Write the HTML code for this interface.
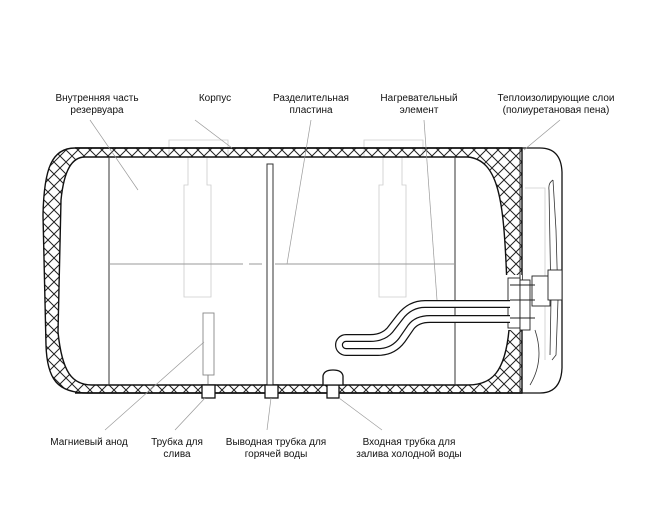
<!DOCTYPE html>
<html><head><meta charset="utf-8"><style>
html,body{margin:0;padding:0;background:#fff;width:648px;height:526px;overflow:hidden}
svg{display:block}
text{font-family:"Liberation Sans",sans-serif;font-size:10px;fill:#111}
</style></head><body>
<svg width="648" height="526" viewBox="0 0 648 526" xmlns="http://www.w3.org/2000/svg">
<defs>
<pattern id="h" width="12" height="12" patternUnits="userSpaceOnUse">
<path d="M0,0 L12,12 M12,0 L0,12" stroke="#222" stroke-width="1"/>
</pattern>
</defs>
<g fill="none" stroke="#ccc" stroke-width="0.8">
<path d="M169,157 V140 H228 V157"/>
<path d="M188,157 V185 H184 V297 H211 V185 H207 V157"/>
<path d="M364,157 V140 H423 V157"/>
<path d="M383,157 V185 H379 V297 H406 V185 H402 V157"/>
<path d="M525,188 H545 V360"/>
</g>
<path fill="url(#h)" fill-rule="evenodd" stroke="#111" stroke-width="1.4" d="M75,148 H522 V393 H88 C58,393 47,380 46,345 L43,215 C44,168 52,148 75,148 Z M85,157 H468 C498,160 503,200 506,262 L509,330 C505,372 492,385 468,385 H92 C72,385 62,372 58,332 L61,200 C64,170 72,157 85,157 Z"/>
<line x1="75" y1="148" x2="522" y2="148" stroke="#111" stroke-width="1.6"/>
<line x1="75" y1="393" x2="522" y2="393" stroke="#111" stroke-width="1.6"/>
<rect x="502" y="275" width="20" height="55" fill="#fff"/>
<g fill="none" stroke="#333" stroke-width="1">
<line x1="109" y1="157" x2="109" y2="385"/>
<line x1="455" y1="157" x2="455" y2="385"/>
<line x1="520" y1="148" x2="520" y2="393"/>
<path d="M109,264 H243 M249,264 H262 M275,264 H455" stroke="#999"/>
</g>
<path d="M522,148 H540 Q561,148 562,172 V368 Q561,393 540,393 H522" fill="none" stroke="#111" stroke-width="1.3"/>
<path d="M553,180 L556,230 L558,300 L556,355 L552,360 M553,180 Q548,183 549,190 L551,300 L550,355" fill="none" stroke="#333" stroke-width="0.8"/>
<path d="M535,330 Q545,360 530,385" fill="none" stroke="#333" stroke-width="0.8"/>
<g fill="#fff" stroke="#222" stroke-width="0.9">
<rect x="508" y="278" width="12" height="50"/>
<rect x="520" y="280" width="10" height="50"/>
<rect x="532" y="276" width="18" height="30"/>
<rect x="548" y="270" width="14" height="30"/>
<path d="M510,285 H535 M510,300 H535 M510,318 H535"/>
</g>
<path d="M510,304 H425 Q410,304 400,317 L390,330 Q383,338 370,338 H346 A7,7 0 0 0 346,352 H378 Q393,352 402,340 L411,327 Q417,319 430,319 H510" fill="none" stroke="#111" stroke-width="8"/>
<path d="M510,304 H425 Q410,304 400,317 L390,330 Q383,338 370,338 H346 A7,7 0 0 0 346,352 H378 Q393,352 402,340 L411,327 Q417,319 430,319 H510" fill="none" stroke="#fff" stroke-width="5.6"/>
<rect x="267" y="164" width="6" height="222" fill="#fff" stroke="#333" stroke-width="1"/>
<rect x="203" y="313" width="11" height="62" fill="#fff" stroke="#888" stroke-width="0.9"/>
<line x1="208" y1="375" x2="208" y2="385" stroke="#888"/>
<g fill="#fff" stroke="#111" stroke-width="1.3">
<rect x="202" y="385" width="13" height="13"/>
<rect x="265" y="385" width="13" height="13"/>
<rect x="327" y="385" width="12" height="13"/>
<path d="M323,385 V376 Q324,370 333,370 Q342,370 343,376 V385 Z"/>
</g>
<g stroke="#999" stroke-width="0.7" fill="none">
<line x1="90" y1="120" x2="138" y2="190"/>
<line x1="195" y1="120" x2="232" y2="148"/>
<line x1="311" y1="120" x2="287" y2="264"/>
<line x1="424" y1="120" x2="437" y2="300"/>
<line x1="560" y1="120" x2="524" y2="150"/>
<line x1="105" y1="430" x2="204" y2="342"/>
<line x1="175" y1="430" x2="205" y2="398"/>
<line x1="267" y1="430" x2="271" y2="398"/>
<line x1="382" y1="430" x2="339" y2="398"/>
</g>
<g text-anchor="middle">
<text x="97" y="101">Внутренняя часть</text>
<text x="97" y="113">резервуара</text>
<text x="215" y="101">Корпус</text>
<text x="311" y="101">Разделительная</text>
<text x="311" y="113">пластина</text>
<text x="419" y="101">Нагревательный</text>
<text x="419" y="113">элемент</text>
<text x="556" y="101">Теплоизолирующие слои</text>
<text x="556" y="113">(полиуретановая пена)</text>
<text x="89" y="445">Магниевый анод</text>
<text x="177" y="445">Трубка для</text>
<text x="177" y="457">слива</text>
<text x="276" y="445">Выводная трубка для</text>
<text x="276" y="457">горячей воды</text>
<text x="409" y="445">Входная трубка для</text>
<text x="409" y="457">залива холодной воды</text>
</g>
</svg>
</body></html>
